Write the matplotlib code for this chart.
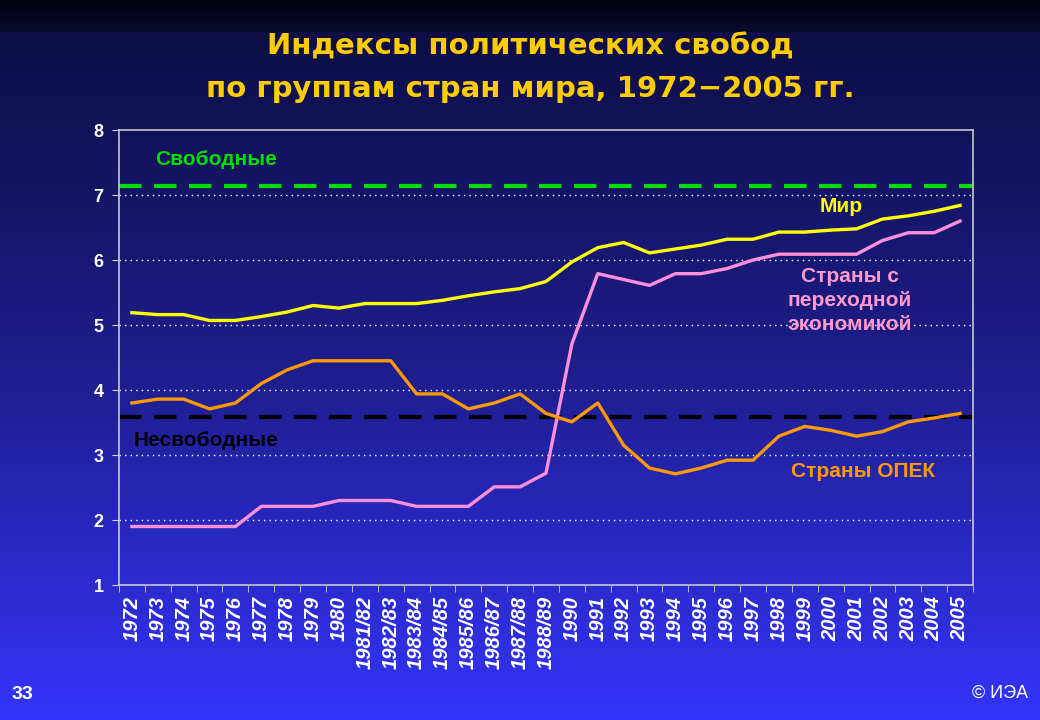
import matplotlib
matplotlib.use('Agg')
import matplotlib.pyplot as plt
import numpy as np
from matplotlib.colors import LinearSegmentedColormap

plt.rcParams['font.family'] = ['Liberation Sans', 'DejaVu Sans']

# data
years = ['1972', '1973', '1974', '1975', '1976', '1977', '1978', '1979', '1980',
         '1981/82', '1982/83', '1983/84', '1984/85', '1985/86', '1986/87',
         '1987/88', '1988/89', '1990', '1991', '1992', '1993', '1994', '1995',
         '1996', '1997', '1998', '1999', '2000', '2001', '2002', '2003', '2004', '2005']
world = [5.19, 5.16, 5.16, 5.07, 5.07, 5.13, 5.20, 5.30, 5.26, 5.33, 5.33,
         5.33, 5.38, 5.45, 5.51, 5.56, 5.67, 5.97, 6.19, 6.27, 6.11, 6.17,
         6.23, 6.32, 6.32, 6.43, 6.43, 6.46, 6.48, 6.63, 6.68, 6.75, 6.84]
transition = [1.90, 1.90, 1.90, 1.90, 1.90, 2.21, 2.21, 2.21, 2.30, 2.30, 2.30,
              2.21, 2.21, 2.21, 2.51, 2.51, 2.72, 4.71, 5.79, 5.70, 5.61, 5.79,
              5.79, 5.87, 6.00, 6.09, 6.09, 6.09, 6.09, 6.30, 6.42, 6.42, 6.60]
opec = [3.80, 3.86, 3.86, 3.71, 3.80, 4.10, 4.31, 4.45, 4.45, 4.45, 4.45,
        3.94, 3.94, 3.71, 3.80, 3.94, 3.64, 3.51, 3.80, 3.15, 2.80, 2.71,
        2.80, 2.92, 2.92, 3.29, 3.44, 3.38, 3.29, 3.36, 3.51, 3.57, 3.64]
free_level = 7.14
notfree_level = 3.59

fig = plt.figure(figsize=(10.4, 7.2), dpi=100)

# gradient background, dark band on top
bg = fig.add_axes([0, 0, 1, 1])
cmap = LinearSegmentedColormap.from_list('bg', ['#0e0e45', '#1e1e8e', '#3434fa'])
grad = np.linspace(0, 1, 256).reshape(-1, 1)
bg.imshow(grad, aspect='auto', cmap=cmap, extent=[0, 1, 0, 0.955], origin='upper')
band = LinearSegmentedColormap.from_list('band', ['#02020f', '#0a0a30'])
bg.imshow(grad, aspect='auto', cmap=band, extent=[0, 1, 0.955, 1], origin='upper')
bg.set_xlim(0, 1)
bg.set_ylim(0, 1)
bg.axis('off')

ax = fig.add_axes([0.1144, 0.1875, 0.8212, 0.6319])
ax.patch.set_alpha(0)
x = np.arange(len(years))

for lvl in range(2, 8):
    ax.axhline(lvl, color='white', linestyle=(0, (1, 3)), linewidth=1.0, zorder=1)

ax.axhline(free_level, color='#00dd00', linestyle=(0, (5.4, 3)), linewidth=3, zorder=2)
ax.axhline(notfree_level, color='black', linestyle=(0, (5.4, 3)), linewidth=3, zorder=2)

ax.plot(x, world, color='#ffff00', linewidth=2.4, zorder=3)
ax.plot(x, transition, color='#ff8fd8', linewidth=2.4, zorder=3)
ax.plot(x, opec, color='#ff9900', linewidth=2.4, zorder=4)

ax.set_xlim(-0.5, len(years) - 0.5)
ax.set_ylim(1, 8)
ax.set_yticks(range(1, 9))
ax.set_yticklabels([str(v) for v in range(1, 9)], color='white',
                   fontsize=13, fontweight='bold')
ax.set_xticks(x)
ax.set_xticklabels(years, rotation=90, color='white', fontsize=14.5,
                   fontweight='bold', fontstyle='italic', va='top')
ax.set_xticks(np.arange(-0.5, len(years), 1), minor=True)
ax.tick_params(axis='x', which='major', length=0, pad=8)
ax.tick_params(axis='x', which='minor', length=5, color='#d0d0d0', direction='out')
ax.tick_params(axis='y', length=5, color='#d0d0d0', pad=6)
for s in ax.spines.values():
    s.set_color('#c8c8c8')
    s.set_linewidth(1.2)

ax.text(0.89, 7.54, 'Свободные', color='#00dd00', fontsize=15, fontweight='bold', va='center')
ax.text(0.08, 3.23, 'Несвободные', color='black', fontsize=15, fontweight='bold', va='center')
ax.text(27.4, 6.83, 'Мир', color='#ffff00', fontsize=15, fontweight='bold',
        ha='center', va='center')
ax.text(27.75, 5.38, 'Страны с\nпереходной\nэкономикой', color='#ff99cc',
        fontsize=15, fontweight='bold', ha='center', va='center', linespacing=1.32)
ax.text(28.25, 2.75, 'Страны ОПЕК', color='#ff9900', fontsize=15,
        fontweight='bold', ha='center', va='center')

title_font = ['DejaVu Sans']
fig.text(0.51, 0.936, 'Индексы политических свобод', color='#ffcc00', fontsize=21,
         fontweight='bold', ha='center', va='center', family=title_font)
fig.text(0.51, 0.877, 'по группам стран мира, 1972\u22122005 гг.', color='#ffcc00',
         fontsize=21, fontweight='bold', ha='center', va='center', family=title_font)
fig.text(0.0115, 0.035, '33', color='white', fontsize=14, fontweight='bold', va='center')
fig.text(0.989, 0.037, '© ИЭА', color='white', fontsize=13, ha='right', va='center')

fig.savefig('out.png', dpi=100)
